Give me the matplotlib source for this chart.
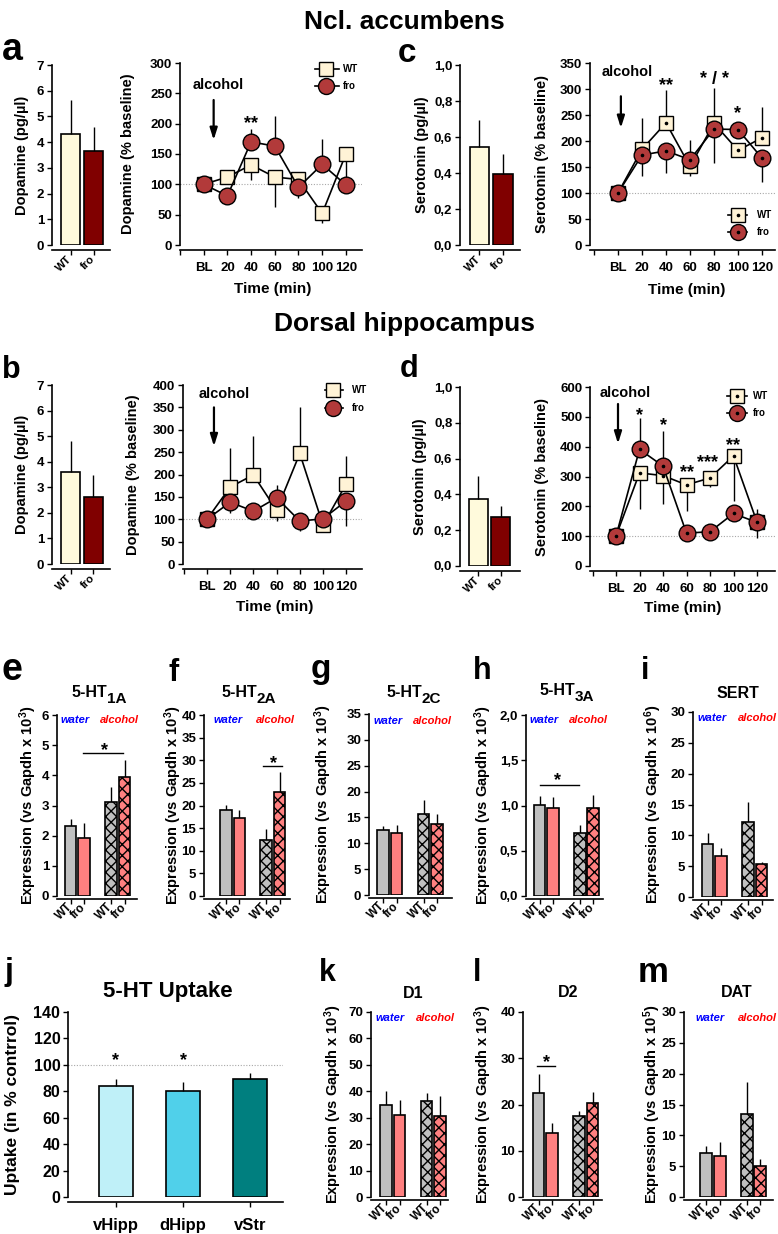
import numpy as np
import matplotlib
matplotlib.use('Agg')
import matplotlib.pyplot as plt
from matplotlib.transforms import Affine2D
from matplotlib.lines import Line2D

# ======================= DATA =======================
times = ['BL', '20', '40', '60', '80', '100', '120']
genotypes = ['WT', 'fro']
expr_groups = ['WT', 'fro', 'WT', 'fro']          # water WT, water fro, alcohol WT, alcohol fro

# a: Ncl. accumbens, dopamine
a_basal = [4.30, 3.65]
a_basal_err = [1.35, 0.95]
a_wt = [100, 112, 132, 112, 108, 52, 150]
a_wt_lo = [0, 0, 25, 49, 0, 15, 50]
a_wt_hi = [0, 0, 0, 0, 0, 0, 0]
a_fro = [100, 81, 170, 163, 95, 133, 99]
a_fro_lo = [0, 0, 0, 0, 18, 0, 0]
a_fro_hi = [0, 0, 22, 49, 0, 42, 0]

# c: Ncl. accumbens, serotonin
c_basal = [0.545, 0.395]
c_basal_err = [0.15, 0.11]
c_wt = [100, 184, 235, 151, 234, 182, 206]
c_wt_lo = [0, 0, 0, 18, 0, 0, 0]
c_wt_hi = [0, 61, 63, 0, 68, 0, 59]
c_fro = [100, 173, 181, 164, 223, 222, 167]
c_fro_lo = [0, 41, 43, 0, 66, 0, 45]
c_fro_hi = [0, 0, 0, 38, 0, 0, 0]

# b: Dorsal hippocampus, dopamine
b_basal = [3.60, 2.62]
b_basal_err = [1.22, 0.88]
b_wt = [100, 172, 199, 120, 247, 87, 179]
b_wt_lo = [0, 0, 0, 24, 0, 0, 0]
b_wt_hi = [0, 87, 86, 0, 103, 0, 63]
b_fro = [100, 138, 118, 148, 96, 101, 141]
b_fro_lo = [0, 23, 0, 0, 22, 0, 56]
b_fro_hi = [0, 0, 0, 28, 0, 0, 0]

# d: Dorsal hippocampus, serotonin
d_basal = [0.375, 0.275]
d_basal_err = [0.13, 0.06]
d_wt = [100, 312, 303, 272, 295, 369, 147]
d_wt_lo = [0, 122, 96, 89, 30, 150, 0]
d_wt_hi = [0, 0, 0, 0, 0, 0, 43]
d_fro = [100, 391, 335, 110, 115, 176, 146]
d_fro_lo = [0, 0, 0, 0, 0, 0, 51]
d_fro_hi = [0, 106, 116, 0, 0, 0, 0]

# e-i, k-m: expression (water WT, water fro, alcohol WT, alcohol fro)
e_means = [2.32, 1.93, 3.10, 3.93]
e_err = [0.23, 0.49, 0.50, 0.59]
f_means = [19.1, 17.2, 12.4, 23.0]
f_err = [1.0, 1.8, 2.4, 4.5]
g_means = [12.5, 11.9, 15.7, 13.8]
g_err = [0.9, 1.7, 2.7, 1.8]
h_means = [1.01, 0.975, 0.70, 0.975]
h_err = [0.095, 0.115, 0.08, 0.145]
i_means = [8.6, 6.6, 12.1, 5.3]
i_err = [1.8, 1.4, 3.3, 0.3]
k_means = [35.0, 31.0, 36.2, 30.5]
k_err = [5.1, 5.6, 3.1, 7.7]
l_means = [22.4, 13.8, 17.6, 20.3]
l_err = [4.3, 2.2, 1.0, 2.3]
m_means = [7.2, 6.6, 13.5, 5.0]
m_err = [1.1, 2.4, 5.1, 1.2]

# j: 5-HT uptake
j_regions = ['vHipp', 'dHipp', 'vStr']
j_means = [84, 80, 89.5]
j_err = [5.5, 7.0, 4.5]

# ======================= STYLE =======================
plt.rcParams['font.family'] = ['Liberation Sans', 'DejaVu Sans']
plt.rcParams['font.weight'] = 'bold'
plt.rcParams['axes.labelweight'] = 'bold'
plt.rcParams['mathtext.default'] = 'regular'
plt.rcParams['hatch.linewidth'] = 1.0

WT_BAR = '#FFFADC'
FRO_BAR = '#800000'
WT_MK = '#FFF3D6'
FRO_MK = '#B23A3A'
GREY = '#C0C0C0'
SALMON = '#FF8080'
J_COLORS = ['#BFF0F8', '#50D0EA', '#007F7F']

W, H = 778, 1234
fig = plt.figure(figsize=(W / 100, H / 100), dpi=100)
PX = Affine2D().scale(1 / W, -1 / H).translate(0, 1) + fig.transFigure


def axes_px(l, t, r, b):
    return fig.add_axes([l / W, 1 - b / H, (r - l) / W, (b - t) / H])


def ftext(x, y, s, **kw):
    kw.setdefault('fontweight', 'bold')
    return fig.text(x, y, s, transform=PX, **kw)


def style(ax, yt, ytl, fs, off=2.5):
    for s in ['top', 'right']:
        ax.spines[s].set_visible(False)
    ax.spines['left'].set_linewidth(1.2)
    ax.spines['bottom'].set_linewidth(1.2)
    ax.spines['bottom'].set_position(('outward', off))
    ax.set_yticks(yt)
    ax.set_yticklabels(ytl)
    ax.tick_params(axis='both', direction='out', length=3.5, width=1,
                   labelsize=fs, pad=2)


def star(ax, x, y, s, fs=13):
    ax.annotate(s, xy=(x, y), xytext=(0, -0.56 * fs), textcoords='offset points',
                ha='center', va='baseline', fontsize=fs, fontweight='bold',
                annotation_clip=False)


def alcohol_arrow(ax, xt, yt, xa, ya0, ya1):
    ax.text(xt, yt, 'alcohol', ha='center', va='center', fontsize=10.5, fontweight='bold')
    ax.annotate('', xy=(xa, ya1), xytext=(xa, ya0),
                arrowprops=dict(arrowstyle='-|>,head_length=0.7,head_width=0.22',
                                color='k', lw=1.6, shrinkA=0, shrinkB=0))


def basal_panel(box, c0, unit, vals, errs, ylim, yt, ytl, ylabel, ylx):
    l, t, r, b = box
    ax = axes_px(l, t, r, b)
    x = np.arange(len(genotypes))
    ax.bar(x, vals, width=19 / unit, color=[WT_BAR, FRO_BAR], edgecolor='k', lw=1.2,
           yerr=[[0] * len(vals), errs], error_kw=dict(ecolor='k', elinewidth=1, capsize=0),
           zorder=2)
    ax.set_xlim((l - c0) / unit, (r - c0) / unit)
    ax.set_ylim(*ylim)
    style(ax, yt, ytl, 9.5, off=3.6)
    ax.set_xticks(x)
    ax.set_xticklabels(genotypes, rotation=45, ha='right', va='center',
                       rotation_mode='anchor', fontsize=8)
    ftext(ylx, (t + b) / 2, ylabel, rotation=90, ha='center', va='center', fontsize=10.5)
    return ax


def line_panel(box, x0, step, ylim, yt, wt, wt_lo, wt_hi, fro, fro_lo, fro_hi,
               dots, ylabel, ylx, xl_pos):
    l, t, r, b = box
    ax = axes_px(l, t, r, b)
    x = np.arange(len(times))
    ax.set_xlim((l - x0) / step, (r - x0) / step)
    ax.set_ylim(*ylim)
    ax.axhline(100, color='#A8A8A8', ls=(0, (1, 1.5)), lw=0.8, zorder=1)
    ax.errorbar(x, wt, yerr=[wt_lo, wt_hi], fmt='none', ecolor='k', elinewidth=1,
                capsize=0, zorder=2)
    ax.errorbar(x, fro, yerr=[fro_lo, fro_hi], fmt='none', ecolor='k', elinewidth=1,
                capsize=0, zorder=2)
    ax.plot(x, wt, '-', color='k', lw=1.2, marker='s', ms=10.5, mfc=WT_MK, mec='k',
            mew=1, zorder=3, clip_on=False)
    if dots:
        ax.plot(x, wt, ls='none', marker='o', ms=1.6, color='k', zorder=3.5, clip_on=False)
    ax.plot(x, fro, '-', color='k', lw=1.2, marker='o', ms=12, mfc=FRO_MK, mec='k',
            mew=1, zorder=4, clip_on=False)
    if dots:
        ax.plot(x, fro, ls='none', marker='o', ms=1.6, color='k', zorder=4.5, clip_on=False)
    style(ax, yt, [str(v) for v in yt], 9.5, off=3.6)
    ax.set_xticks(np.arange(-1, len(times)))
    ax.set_xticklabels([''] + times, fontsize=9.5)
    ax.tick_params(axis='x', pad=5)
    ftext(ylx, (t + b) / 2, ylabel, rotation=90, ha='center', va='center', fontsize=10.5)
    ftext(xl_pos[0], xl_pos[1], 'Time (min)', ha='center', va='center', fontsize=11)
    return ax


def legend_px(xl, xr, xm, xt, y1, y2, dots):
    for y, mk, fc, ms, lab in [(y1, 's', WT_MK, 10, 'WT'), (y2, 'o', FRO_MK, 11.5, 'fro')]:
        fig.add_artist(Line2D([xl, xr], [y, y], transform=PX, color='k', lw=1.2))
        fig.add_artist(Line2D([xm], [y], transform=PX, marker=mk, ms=ms, mfc=fc,
                              mec='k', mew=1, ls='none'))
        if dots:
            fig.add_artist(Line2D([xm], [y], transform=PX, marker='o', ms=1.6,
                                  color='k', ls='none'))
        ftext(xt, y, lab, ha='left', va='center', fontsize=7)


def expr_panel(box, c0, unit, means, errs, ylim, yt, ytl, ylabel, ylx,
               water=None, alcohol=None):
    l, t, r, b = box
    ax = axes_px(l, t, r, b)
    x = np.array([0, 1, 3, 4])
    cols = [GREY, SALMON, GREY, SALMON]
    hat = ['', '', 'xxx', 'xxx']
    for xi, m, e, c, h in zip(x, means, errs, cols, hat):
        ax.bar(xi, m, width=0.88, color=c, edgecolor='k', lw=1.2, hatch=h, zorder=2)
        ax.errorbar(xi, m, yerr=[[0], [e]], fmt='none', ecolor='k', elinewidth=1,
                    capsize=0, zorder=1)
    ax.set_xlim((l - c0) / unit, (r - c0) / unit)
    ax.set_ylim(*ylim)
    style(ax, yt, ytl, 9.5, off=2.2)
    ax.set_xticks(x)
    ax.set_xticklabels(expr_groups, rotation=45, ha='right', va='center',
                       rotation_mode='anchor', fontsize=8.5)
    ax.tick_params(axis='x', pad=1)
    ftext(ylx, (t + b) / 2, ylabel, rotation=90, ha='center', va='center', fontsize=10.5)
    if water:
        ftext(water[0], water[1], 'water', ha='center', va='center', fontsize=8,
              color='#0000FF', style='italic')
    if alcohol:
        ftext(alcohol[0], alcohol[1], 'alcohol', ha='center', va='center', fontsize=8,
              color='#FF0000', style='italic')
    return ax


def sub_title(xsplit, yb, main, sub):
    ftext(xsplit, yb, main, ha='right', va='baseline', fontsize=11.5)
    ftext(xsplit, yb + 6, sub, ha='left', va='baseline', fontsize=11)


# ======================= HEADERS / LETTERS =======================
ftext(404, 29, 'Ncl. accumbens', ha='center', va='baseline', fontsize=19)
ftext(405, 331, 'Dorsal hippocampus', ha='center', va='baseline', fontsize=19)

letters = [('a', 12, 60, 27), ('c', 407, 62, 24), ('b', 11, 378, 22), ('d', 409, 377, 22),
           ('e', 12, 680, 27), ('f', 174, 681, 22), ('g', 321, 678, 24), ('h', 482, 679, 22),
           ('i', 645, 679, 22), ('j', 9, 980, 23), ('k', 327, 981, 22), ('l', 477, 981, 22),
           ('m', 653, 982, 25)]
for s, x, y, fs in letters:
    ftext(x, y, s, ha='center', va='baseline', fontsize=fs)

ylabel_expr = 'Expression (vs Gapdh x 10$^{3}$)'

# ======================= a =======================
basal_panel((52, 65, 110, 245), 70.5, 23, a_basal, a_basal_err, (0, 7),
            range(0, 8), [str(v) for v in range(0, 8)], 'Dopamine (pg/µl)', 22)
ax = line_panel((180, 63, 362, 245), 203, 23.8, (0, 300), list(range(0, 301, 50)),
                a_wt, a_wt_lo, a_wt_hi, a_fro, a_fro_lo, a_fro_hi, False,
                'Dopamine (% baseline)', 128, (273, 289))
alcohol_arrow(ax, 0.63, 264, 0.42, 239, 173)
star(ax, 2, 209, '**')
legend_px(315, 339, 326, 343, 69, 86, False)

# ======================= c =======================
frac = ['0,0', '0,2', '0,4', '0,6', '0,8', '1,0']
basal_panel((460, 65, 520, 245), 479.5, 23.5, c_basal, c_basal_err, (0, 1),
            np.linspace(0, 1, 6), frac, 'Serotonin (pg/µl)', 422)
ax = line_panel((590, 63, 775, 245), 618, 24, (0, 350), list(range(0, 351, 50)),
                c_wt, c_wt_lo, c_wt_hi, c_fro, c_fro_lo, c_fro_hi, True,
                'Serotonin (% baseline)', 542, (687, 290))
alcohol_arrow(ax, 0.37, 332, 0.12, 286, 225)
star(ax, 2, 318, '**')
star(ax, 4, 329, '* / *')
star(ax, 5, 263, '*')
legend_px(728, 747, 738, 757, 215, 232, True)

# ======================= b =======================
basal_panel((52, 385, 110, 564), 70.5, 22.5, b_basal, b_basal_err, (0, 7),
            range(0, 8), [str(v) for v in range(0, 8)], 'Dopamine (pg/µl)', 22)
ax = line_panel((183, 385, 362, 564), 207, 23.2, (0, 400), list(range(0, 401, 50)),
                b_wt, b_wt_lo, b_wt_hi, b_fro, b_fro_lo, b_fro_hi, False,
                'Dopamine (% baseline)', 133, (275, 607))
alcohol_arrow(ax, 0.73, 380, 0.3, 350, 263)
legend_px(325, 343, 333, 352, 390, 408, False)

# ======================= d =======================
basal_panel((460, 387, 520, 566), 478.5, 22.5, d_basal, d_basal_err, (0, 1),
            np.linspace(0, 1, 6), frac, 'Serotonin (pg/µl)', 420)
ax = line_panel((590, 387, 775, 566), 616, 23.5, (0, 600), list(range(0, 601, 100)),
                d_wt, d_wt_lo, d_wt_hi, d_fro, d_fro_lo, d_fro_hi, True,
                'Serotonin (% baseline)', 542, (683, 608))
alcohol_arrow(ax, 0.38, 579, 0.085, 543, 410)
star(ax, 1, 523, '*')
star(ax, 2, 490, '*')
star(ax, 3, 331, '**')
star(ax, 3.9, 364, '***')
star(ax, 5, 423, '**')
legend_px(727, 747, 737, 753, 396, 413, True)

# ======================= e =======================
ax = expr_panel((57, 715, 137, 896), 70.5, 13.5, e_means, e_err, (0, 6), range(0, 7),
                [str(v) for v in range(0, 7)], ylabel_expr, 28, (75, 720), (119, 720))
ax.plot([0.95, 3.9], [4.75, 4.75], color='k', lw=1, clip_on=False)
star(ax, 2.55, 5.0, '*')
sub_title(107, 697, '5-HT', '1A')

# ======================= f =======================
ax = expr_panel((204, 715, 290, 896), 226, 13.4, f_means, f_err, (0, 40), range(0, 41, 5),
                [str(v) for v in range(0, 41, 5)], ylabel_expr, 173, (228, 720), (275, 720))
ax.plot([2.76, 4.18], [28.8, 28.8], color='k', lw=1, clip_on=False)
star(ax, 3.58, 30.6, '*')
sub_title(257, 697, '5-HT', '2A')

# ======================= g =======================
ax = expr_panel((369, 714, 452, 895), 383, 13.5, g_means, g_err, (0, 35), range(0, 36, 5),
                [str(v) for v in range(0, 36, 5)], ylabel_expr, 323, (388, 721), (432, 721))
sub_title(422, 697, '5-HT', '2C')

# ======================= h =======================
ax = expr_panel((526, 715, 603, 896), 539.5, 13.4, h_means, h_err, (0, 2),
                [0, 0.5, 1.0, 1.5, 2.0], ['0,0', '0,5', '1,0', '1,5', '2,0'],
                ylabel_expr, 483, (544, 720), (588, 720))
ax.plot([0, 2.96], [1.226, 1.226], color='k', lw=1, clip_on=False)
star(ax, 1.38, 1.34, '*')
sub_title(575, 695, '5-HT', '3A')

# ======================= i =======================
ax = expr_panel((693, 712, 773, 897), 707.5, 13.5, i_means, i_err, (0, 30), range(0, 31, 5),
                [str(v) for v in range(0, 31, 5)], 'Expression (vs Gapdh x 10$^{6}$)', 653,
                (712, 718), (757, 718))
ftext(738, 698, 'SERT', ha='center', va='baseline', fontsize=11.5)

# ======================= j =======================
ax = axes_px(68, 1012, 283, 1197)
xj = np.arange(len(j_regions))
ax.axhline(100, color='#A8A8A8', ls=(0, (1, 1.5)), lw=0.8, zorder=1)
ax.bar(xj, j_means, width=0.51, color=J_COLORS, edgecolor='k', lw=1.2,
       yerr=[[0] * 3, j_err], error_kw=dict(ecolor='k', elinewidth=1, capsize=0), zorder=2)
ax.set_xlim((68 - 116) / 67, (283 - 116) / 67)
ax.set_ylim(0, 140)
style(ax, range(0, 141, 20), [str(v) for v in range(0, 141, 20)], 11.5, off=3.6)
ax.set_xticks(xj)
ax.set_xticklabels(j_regions, fontsize=12)
ax.tick_params(axis='x', pad=8)
star(ax, 0, 107.7, '*')
star(ax, 1, 107.7, '*')
ftext(168, 997, '5-HT Uptake', ha='center', va='baseline', fontsize=16)
ftext(13, (1012 + 1197) / 2, 'Uptake (in % contrrol)', rotation=90, ha='center',
      va='center', fontsize=12.5)

# ======================= k =======================
ax = expr_panel((371, 1012, 448, 1197), 386, 13.5, k_means, k_err, (0, 70), range(0, 71, 10),
                [str(v) for v in range(0, 71, 10)], ylabel_expr, 333, (390, 1018), (435, 1018))
ftext(413, 998, 'D1', ha='center', va='baseline', fontsize=11.5)

# ======================= l =======================
ax = expr_panel((523, 1012, 602, 1197), 538.5, 13.5, l_means, l_err, (0, 40), range(0, 41, 10),
                [str(v) for v in range(0, 41, 10)], ylabel_expr, 483)
ax.plot([-0.11, 1.22], [28.3, 28.3], color='k', lw=1, clip_on=False)
star(ax, 0.56, 30.2, '*')
ftext(568, 997, 'D2', ha='center', va='baseline', fontsize=11.5)

# ======================= m =======================
ax = expr_panel((684, 1012, 773, 1197), 706, 13.6, m_means, m_err, (0, 30), range(0, 31, 5),
                [str(v) for v in range(0, 31, 5)], 'Expression (vs Gapdh x 10$^{5}$)', 652,
                (710, 1018), (757, 1018))
ftext(737, 997, 'DAT', ha='center', va='baseline', fontsize=11.5)

fig.savefig('out.png', dpi=100)
